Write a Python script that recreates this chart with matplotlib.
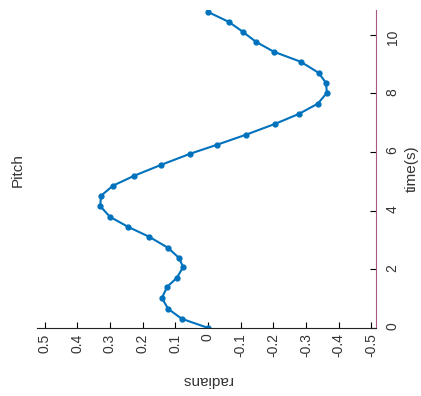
import matplotlib
matplotlib.use("Agg")
import matplotlib.pyplot as plt

plt.rcParams['font.family'] = ['Liberation Sans', 'DejaVu Sans']

# Pitch samples
time_s = [0.0, 0.31, 0.65, 1.02, 1.40, 1.71, 2.08, 2.39, 2.73, 3.11, 3.45,
          3.79, 4.16, 4.51, 4.85, 5.19, 5.56, 5.94, 6.25, 6.59, 6.96, 7.30,
          7.65, 8.02, 8.36, 8.70, 9.08, 9.42, 9.76, 10.10, 10.44, 10.78]
pitch_rad = [0.0, 0.080, 0.122, 0.141, 0.125, 0.095, 0.076, 0.089, 0.122,
             0.180, 0.245, 0.300, 0.330, 0.327, 0.291, 0.226, 0.144, 0.055,
             -0.028, -0.116, -0.205, -0.278, -0.336, -0.364, -0.361, -0.339,
             -0.284, -0.202, -0.147, -0.107, -0.064, 0.0]

rad_ticks = [0.5, 0.4, 0.3, 0.2, 0.1, 0, -0.1, -0.2, -0.3, -0.4, -0.5]
rad_labels = ['0.5', '0.4', '0.3', '0.2', '0.1', '0', '-0.1', '-0.2', '-0.3', '-0.4', '-0.5']
time_ticks = [0, 2, 4, 6, 8, 10]

fig = plt.figure(figsize=(4.21, 3.96), dpi=100)
ax = fig.add_axes([0.088, 0.172, 0.805, 0.803])

# figure is shown turned a quarter turn: time runs up, radians run leftwards
ax.plot(pitch_rad, time_s, '-', color='#0072BD', lw=1.5,
        marker='o', markersize=3.5)

ax.set_xlim(0.523, -0.514)
ax.set_ylim(0, 10.85)

for s in ['top', 'left']:
    ax.spines[s].set_visible(False)
ax.spines['bottom'].set_color('#222222')
ax.spines['right'].set_color('#a85a85')

ax.yaxis.tick_right()
ax.yaxis.set_label_position('right')

ax.set_xticks(rad_ticks)
ax.set_xticklabels(rad_labels, rotation=90, fontsize=10, color='#333333')
ax.set_yticks(time_ticks)
ax.set_yticklabels([str(t) for t in time_ticks], rotation=90, fontsize=10,
                   color='#333333')
ax.tick_params(axis='x', direction='in', length=4, width=0.8, pad=4)
ax.tick_params(axis='y', direction='in', length=4, width=0.8, pad=7)

ax.set_xlabel('radians', rotation=180, fontsize=11, color='#333333', va='center')
ax.xaxis.set_label_coords(0.5, -0.165)
ax.set_ylabel('time(s)', rotation=90, fontsize=11, color='#333333', va='center')
ax.yaxis.set_label_coords(1.105, 0.5)

fig.text(0.043, 0.571, 'Pitch', rotation=90, fontsize=11, color='#333333',
         ha='center', va='center')

fig.savefig('out.png', dpi=100)
